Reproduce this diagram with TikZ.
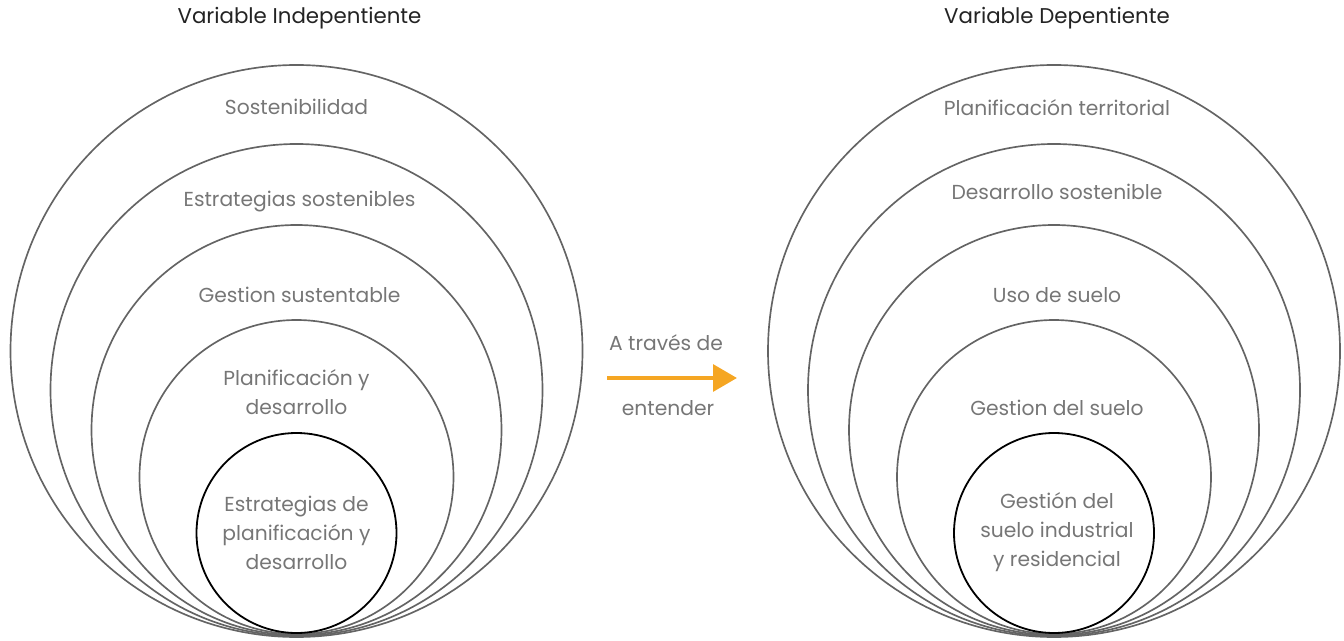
\documentclass[tikz,border=0pt]{standalone}
\usepackage{fontspec}
\setmainfont{Poppins}
\usetikzlibrary{arrows.meta}
\definecolor{ringgray}{RGB}{100,100,100}
\definecolor{labelgray}{RGB}{118,118,118}
\definecolor{titlegray}{RGB}{35,35,35}
\definecolor{arroworange}{RGB}{245,166,35}
\tikzset{
    ring/.style={draw=ringgray, line width=1.25pt},
    core/.style={draw=black, line width=1.35pt},
    lbl/.style={text=labelgray, font=\fontsize{15.2}{21.75}\selectfont, align=center, inner sep=0pt},
    ttl/.style={text=titlegray, font=\fontsize{16}{18}\selectfont, inner sep=0pt},
}

\begin{document}
\begin{tikzpicture}[x=0.75pt,y=-0.75pt]
        \useasboundingbox (0,0) rectangle (1344,641);
        \def\lx{296.5}
        \def\rx{1054}

        % independiente
        \draw[ring] (\lx,351) circle (286);
        \draw[ring] (\lx,390) circle (246);
        \draw[ring] (\lx,430) circle (205);
        \draw[ring] (\lx,477) circle (157);
        \draw[core] (\lx,533) circle (100);

        % dependiente
        \draw[ring] (\rx,351) circle (286);
        \draw[ring] (\rx,390) circle (246);
        \draw[ring] (\rx,430) circle (205);
        \draw[ring] (\rx,477) circle (157);
        \draw[core] (\rx,533) circle (100);

        %titles
        \node[ttl] (tInd) at (\lx+3,18) {Variable Indepentiente};
        \node[ttl] (tDep) at (\rx+3,18) {Variable Depentiente};

        %labels left
        \node[lbl] (sost) at (\lx,107) {Sostenibilidad};
        \node[lbl] (estSost) at (\lx+3,202) {Estrategias sostenibles};
        \node[lbl] (gesSust) at (\lx+3,295) {Gestion sustentable};
        \node[lbl] (planDes) at (\lx,392) {Planificación y\\desarrollo};
        \node[lbl] (estPlan) at (\lx,533) {Estrategias de\\planificación y\\desarrollo};

        %labels right
        \node[lbl] (planTer) at (\rx+3,108) {Planificación territorial};
        \node[lbl] (desSost) at (\rx+3,192) {Desarrollo sostenible};
        \node[lbl] (usoSuelo) at (\rx+3,295) {Uso de suelo};
        \node[lbl] (gesSuelo) at (\rx+3,408) {Gestion del suelo};
        \node[lbl] (gesInd) at (\rx+3,532) {Gestión del\\suelo industrial\\y residencial};

        %arrow
        \coordinate (aStart) at (607,378);
        \coordinate (aEnd) at (737,378);
        \draw[arroworange, line width=3.2pt, -{Triangle[length=18pt,width=20pt]}] (aStart) -- (aEnd);
        \node[lbl] (atraves) at (666,343) {A través de};
        \node[lbl] (entender) at (668,408) {entender};
\end{tikzpicture}
\end{document}
